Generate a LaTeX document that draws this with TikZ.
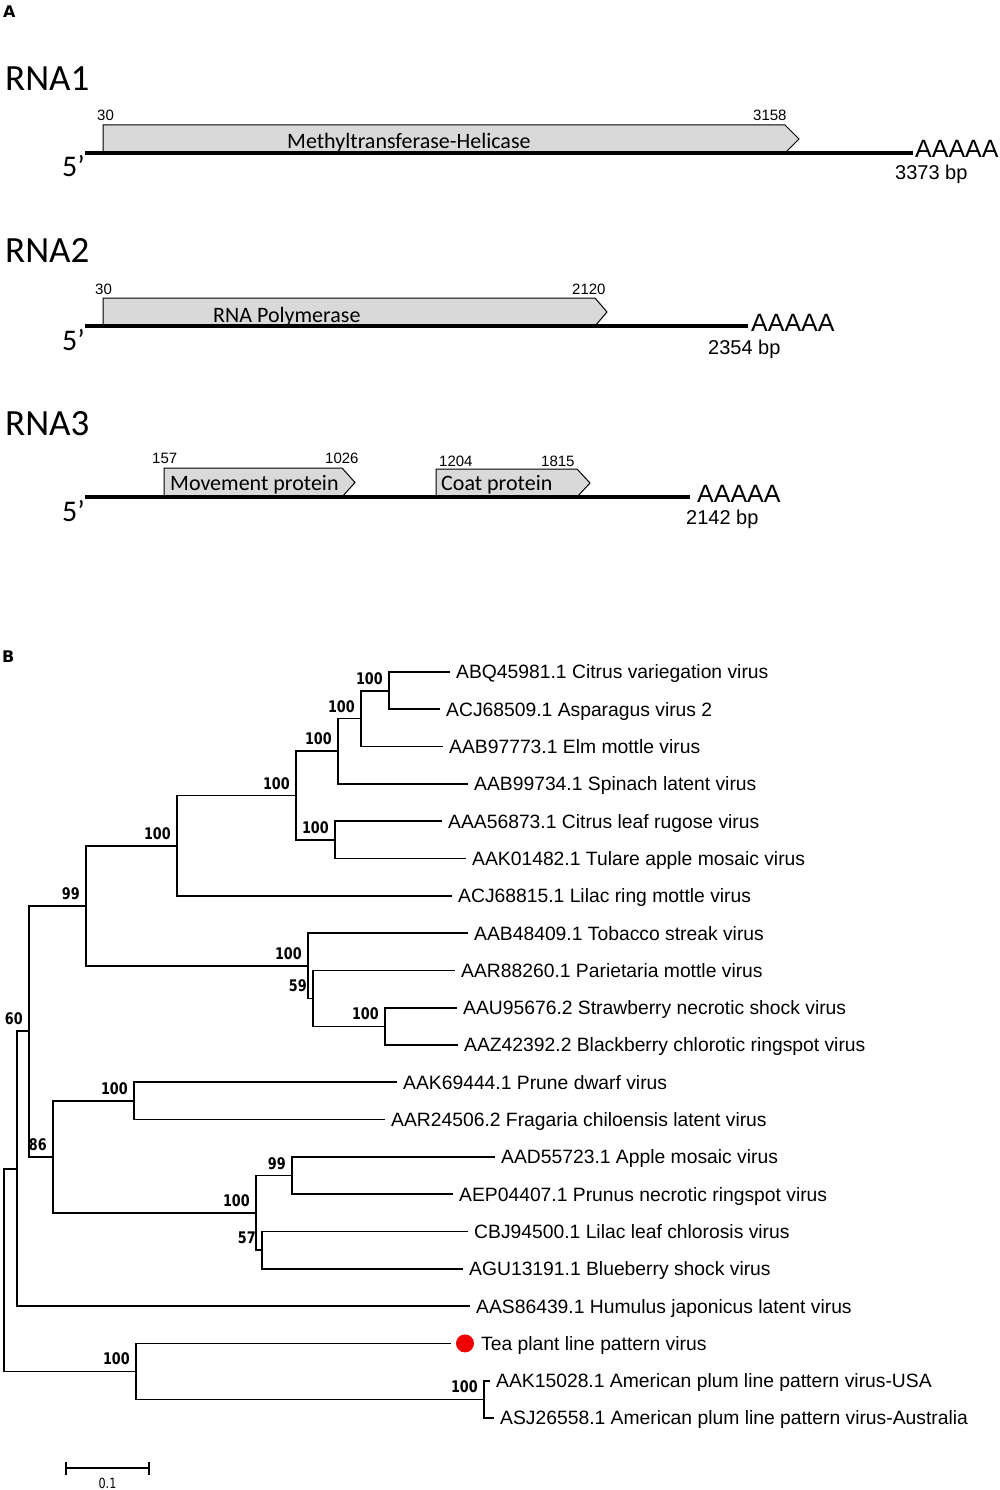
\documentclass[tikz,border=0pt]{standalone}
\usepackage{fontspec}
\setmainfont{Liberation Sans}
\newfontfamily\calfont{Carlito}
\newfontfamily\bootfont[FakeStretch=0.8]{DejaVu Sans}
\newfontfamily\panelfont{DejaVu Sans}
\usepackage{tikz}
\usetikzlibrary{positioning}
\definecolor{genegray}{HTML}{D9D9D9}
\definecolor{dotred}{HTML}{F00000}

\begin{document}
\begin{tikzpicture}[
  x=1pt, y=-1pt,
  rna/.style={line width=3.6pt},
  gene/.style={draw=black, line width=1pt, fill=genegray},
  gname/.style={font=\calfont\fontsize{22}{22}\selectfont, anchor=base west, inner sep=0pt},
  ntlab/.style={font=\fontsize{15}{15}\selectfont, anchor=base west, inner sep=0pt},
  rnaname/.style={font=\calfont\fontsize{37}{37}\selectfont, anchor=base west, inner sep=0pt},
  five/.style={font=\calfont\fontsize{30}{30}\selectfont, anchor=base west, inner sep=0pt},
  polya/.style={font=\fontsize{25}{25}\selectfont, anchor=base west, inner sep=0pt},
  bplab/.style={font=\fontsize{20}{20}\selectfont, anchor=base west, inner sep=0pt},
  panel/.style={font=\panelfont\bfseries\fontsize{16}{16}\selectfont, anchor=base west, inner sep=0pt},
  branch/.style={line width=1.7pt},
  leaf/.style={font=\fontsize{19.3}{19.3}\selectfont, anchor=west, inner xsep=6pt, inner ysep=0pt,
    text height=13.8pt, text depth=0pt},
  boot/.style={font=\bootfont\bfseries\fontsize{16}{16}\selectfont, inner xsep=6pt, inner ysep=6pt},
  bs/.style={label={[boot]above left:#1}},
  dot/.style={circle, fill=dotred, minimum size=18pt, inner sep=0pt, outer sep=5pt},
  scalelab/.style={font=\bootfont\fontsize{14}{14}\selectfont, inner sep=0pt},
]
\useasboundingbox (0,0) rectangle (1000,1490);

\node[panel] (pa) at (3,18) {A};

\node[rnaname] (rna1) at (5,91) {RNA1};
\draw[gene] (103,153) -- (103,125) -- (785,125) -- (799,139) -- (785,153) -- cycle;
\node[gname] (mth) at (287,149) {Methyltransferase-Helicase};
\node[ntlab] (s1) at (97,121) {30};
\node[ntlab] (e1) at (753,121) {3158};
\draw[rna] (85,153) -- (913,153);
\node[five] (f1) at (62,177) {5’};
\node[polya] (pa1) at (915,158) {AAAAA};
\node[bplab] (bp1) at (895,180) {3373 bp};

\node[rnaname] (rna2) at (5,262) {RNA2};
\draw[gene] (103,326) -- (103,298) -- (595,298) -- (607,312) -- (595,326) -- cycle;
\node[gname] (pol) at (213,322) {RNA Polymerase};
\node[ntlab] (s2) at (95,294) {30};
\node[ntlab] (e2) at (572,294) {2120};
\draw[rna] (85,326) -- (748,326);
\node[five] (f2) at (62,350) {5’};
\node[polya] (pa2) at (751,331) {AAAAA};
\node[bplab] (bp2) at (708,354) {2354 bp};

\node[rnaname] (rna3) at (5,435) {RNA3};
\draw[gene] (164,497) -- (164,468) -- (342,468) -- (355,482.5) -- (342,497) -- cycle;
\draw[gene] (436,497) -- (436,469) -- (577,469) -- (590,483) -- (577,497) -- cycle;
\node[gname] (mp) at (170,490) {Movement protein};
\node[gname] (cp) at (441,490) {Coat protein};
\node[ntlab] (s3) at (152,463) {157};
\node[ntlab] (e3) at (325,463) {1026};
\node[ntlab] (s4) at (439,466) {1204};
\node[ntlab] (e4) at (541,466) {1815};
\draw[rna] (85,497) -- (690,497);
\node[five] (f3) at (62,521) {5’};
\node[polya] (pa3) at (697,502) {AAAAA};
\node[bplab] (bp3) at (686,524) {2142 bp};

\node[panel] (pb) at (2,662) {B};

\node[leaf] (cvv) at (450,672) {ABQ45981.1 Citrus variegation virus};
\node[leaf] (asv) at (440,709.3) {ACJ68509.1 Asparagus virus 2};
\node[leaf] (emv) at (443,746.6) {AAB97773.1 Elm mottle virus};
\node[leaf] (slv) at (468,783.9) {AAB99734.1 Spinach latent virus};
\node[leaf] (clrv) at (442,821.2) {AAA56873.1 Citrus leaf rugose virus};
\node[leaf] (tamv) at (466,858.5) {AAK01482.1 Tulare apple mosaic virus};
\node[leaf] (lrmv) at (452,895.8) {ACJ68815.1 Lilac ring mottle virus};
\node[leaf] (tsv) at (468,933.1) {AAB48409.1 Tobacco streak virus};
\node[leaf] (pmov) at (455,970.4) {AAR88260.1 Parietaria mottle virus};
\node[leaf] (snsv) at (457,1007.7) {AAU95676.2 Strawberry necrotic shock virus};
\node[leaf] (bcrv) at (458,1045) {AAZ42392.2 Blackberry chlorotic ringspot virus};
\node[leaf] (pdv) at (397,1082.3) {AAK69444.1 Prune dwarf virus};
\node[leaf] (fclv) at (385,1119.6) {AAR24506.2 Fragaria chiloensis latent virus};
\node[leaf] (apmv) at (495,1156.9) {AAD55723.1 Apple mosaic virus};
\node[leaf] (pnrv) at (453,1194.2) {AEP04407.1 Prunus necrotic ringspot virus};
\node[leaf] (llcv) at (468,1231.5) {CBJ94500.1 Lilac leaf chlorosis virus};
\node[leaf] (blsv) at (463,1268.8) {AGU13191.1 Blueberry shock virus};
\node[leaf] (hjlv) at (470,1306.1) {AAS86439.1 Humulus japonicus latent virus};
\node[dot] (tea) at (465,1343.4) {};
\node[leaf] (teaname) at (475,1343.4) {Tea plant line pattern virus};
\node[leaf] (aplu) at (490,1380.7) {AAK15028.1 American plum line pattern virus-USA};
\node[leaf] (apla) at (494,1418) {ASJ26558.1 American plum line pattern virus-Australia};

\coordinate[bs=100] (n1) at (389,690.65);
\coordinate[bs=100] (n2) at (361,718.6);
\coordinate[bs=100] (n3) at (338,751.3);
\coordinate[bs=100] (n4) at (335,839.9);
\coordinate[bs=100] (n5) at (296,795.6);
\coordinate[bs=100] (n6) at (177,845.7);
\coordinate[bs=100] (n7) at (385,1026.4);
\coordinate[bs=59] (n8) at (313,998.4);
\coordinate[bs=100] (n9) at (308,965.7);
\coordinate[bs=99] (n10) at (86,905.7);
\coordinate[bs=100] (n11) at (134,1101);
\coordinate[bs=99] (n12) at (292,1175.6);
\coordinate[bs=57] (n13) at (262,1250.2);
\coordinate[bs=100] (n14) at (256,1212.9);
\coordinate[bs=86] (n15) at (53,1157);
\coordinate[bs=60] (n16) at (29,1031.3);
\coordinate (n17) at (17,1168.7);
\coordinate[bs=100] (n18) at (484,1399.4);
\coordinate[bs=100] (n19) at (136,1371.4);
\coordinate (root) at (4,1270);

\draw[branch] (n1) |- (cvv.west) (n1) |- (asv.west);
\draw[branch] (n2) |- (n1) (n2) |- (emv.west);
\draw[branch] (n3) |- (n2) (n3) |- (slv.west);
\draw[branch] (n4) |- (clrv.west) (n4) |- (tamv.west);
\draw[branch] (n5) |- (n3) (n5) |- (n4);
\draw[branch] (n6) |- (n5) (n6) |- (lrmv.west);
\draw[branch] (n7) |- (snsv.west) (n7) |- (bcrv.west);
\draw[branch] (n8) |- (pmov.west) (n8) |- (n7);
\draw[branch] (n9) |- (tsv.west) (n9) |- (n8);
\draw[branch] (n10) |- (n6) (n10) |- (n9);
\draw[branch] (n11) |- (pdv.west) (n11) |- (fclv.west);
\draw[branch] (n12) |- (apmv.west) (n12) |- (pnrv.west);
\draw[branch] (n13) |- (llcv.west) (n13) |- (blsv.west);
\draw[branch] (n14) |- (n12) (n14) |- (n13);
\draw[branch] (n15) |- (n11) (n15) |- (n14);
\draw[branch] (n16) |- (n10) (n16) |- (n15);
\draw[branch] (n17) |- (n16) (n17) |- (hjlv.west);
\draw[branch] (n18) |- (aplu.west) (n18) |- (apla.west);
\draw[branch] (n19) |- (tea.west) (n19) |- (n18);
\draw[branch] (root) |- (n17) (root) |- (n19);

\coordinate (sbl) at (66,1468);
\coordinate (sbr) at (149,1468);
\draw[branch] (sbl) -- (sbr);
\draw[branch] ([yshift=6pt]sbl) -- ([yshift=-7pt]sbl);
\draw[branch] ([yshift=6pt]sbr) -- ([yshift=-7pt]sbr);
\node[scalelab] (sbt) at (107.5,1483) {0.1};
\end{tikzpicture}
\end{document}
